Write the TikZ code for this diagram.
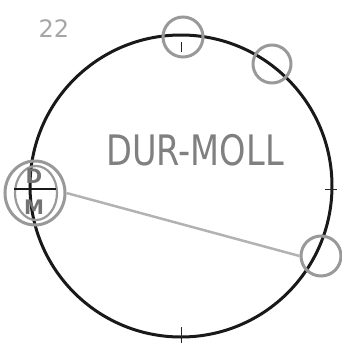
\documentclass[tikz,border=0pt]{standalone}
\usepackage{fontspec}
\setmainfont{DejaVu Sans}
\usetikzlibrary{shapes.geometric}
\begin{document}
\begin{tikzpicture}[x=1pt,y=-1pt,
  pencil/.style={draw=black!40,line width=3pt},
  ink/.style={draw=black!90,line width=3pt},
  tickmark/.style={draw=black!85,line width=1pt}]
\useasboundingbox (0,0) rectangle (341,349);
% big circle
\node[ink,circle,minimum size=302pt,inner sep=0pt] (big) at (181,186) {};
% small circles
\node[pencil,circle,minimum size=40pt,inner sep=0pt] (top) at (183,37) {};
\node[pencil,circle,minimum size=38pt,inner sep=0pt] (tr) at (272,64) {};
\node[pencil,circle,minimum size=40pt,inner sep=0pt] (br) at (321,256) {};
\node[pencil,ellipse,minimum width=60pt,minimum height=64pt,inner sep=0pt] (left) at (35,193) {};
\node[pencil,ellipse,minimum width=42pt,minimum height=54pt,inner sep=0pt,line width=2.2pt] (lefti) at (36,193) {};
% connector
\draw[pencil,line width=2.5pt,draw=black!30] (left.east) -- (br.west);
% ticks
\draw[tickmark] (181,42) -- (181,52);
\draw[tickmark] (325,189) -- (337,189);
\draw[tickmark] (181,327) -- (181,343);
\draw[ink,line width=1.6pt] (14,189) -- (56,189);
% D / M
\node[text=black!55,font=\bfseries\fontsize{20}{20}\selectfont] (dd) at (34,176) {D};
\node[text=black!55,font=\bfseries\fontsize{20}{20}\selectfont] (mm) at (34,207) {M};
% texts
\node[text=black!35,font=\fontsize{24}{24}\selectfont] (num) at (54,29) {22};
\node[text=black!50,xscale=0.8,font=\fontsize{42}{42}\selectfont] (title) at (195,150) {DUR-MOLL};
\end{tikzpicture}
\end{document}
